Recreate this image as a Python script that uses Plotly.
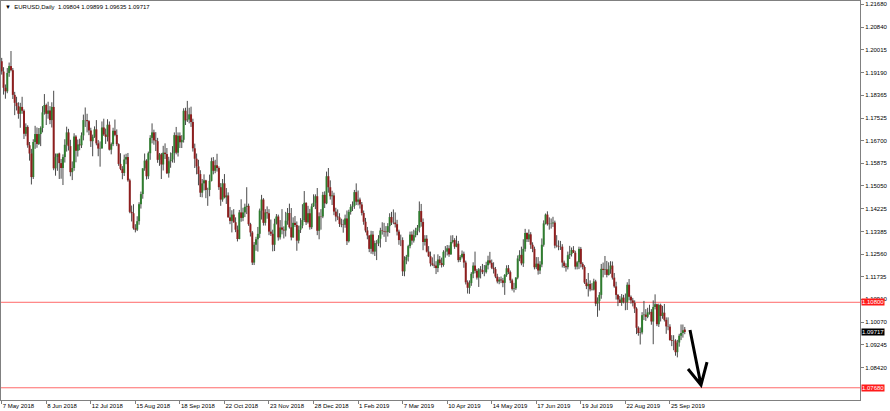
import pandas as pd
import plotly.graph_objects as go

# ---------------- data (EURUSD daily) ----------------
START, END = "2018-05-07", "2019-10-07"
HOLIDAYS = ["2018-12-25", "2019-01-01"]

OPEN = [
    1.1960,1.1922,1.1863,1.1850,1.1917, 1.1942,1.1927,1.1837,1.1808,1.1796,
    1.1768,1.1793,1.1779,1.1695,1.1720, 1.1653,1.1623,1.1537,1.1665,1.1694,
    1.1658,1.1694,1.1716,1.1773,1.1800, 1.1768,1.1780,1.1745,1.1793,1.1569,
    1.1610,1.1623,1.1588,1.1570,1.1610, 1.1655,1.1700,1.1650,1.1555,1.1570,
    1.1685,1.1633,1.1656,1.1653,1.1689, 1.1745,1.1745,1.1741,1.1707,1.1668,
    1.1684,1.1711,1.1660,1.1641,1.1642, 1.1718,1.1692,1.1684,1.1728,1.1637,
    1.1657,1.1706,1.1691,1.1657,1.1585, 1.1567,1.1552,1.1601,1.1610,1.1525,
    1.1410,1.1405,1.1350,1.1345,1.1376, 1.1438,1.1475,1.1569,1.1597,1.1540,
    1.1624,1.1680,1.1700,1.1671,1.1668, 1.1600,1.1620,1.1583,1.1626,1.1621,
    1.1551,1.1595,1.1601,1.1625,1.1690, 1.1626,1.1688,1.1664,1.1673,1.1779,
    1.1744,1.1747,1.1766,1.1738,1.1642, 1.1604,1.1576,1.1548,1.1480,1.1514,
    1.1525,1.1490,1.1490,1.1523,1.1595, 1.1560,1.1580,1.1570,1.1500,1.1455,
    1.1514,1.1463,1.1470,1.1390,1.1377, 1.1400,1.1372,1.1345,1.1311,1.1408,
    1.1388,1.1408,1.1428,1.1432,1.1365, 1.1335,1.1225,1.1290,1.1310,1.1330,
    1.1415,1.1455,1.1370,1.1408,1.1405, 1.1338,1.1330,1.1290,1.1367,1.1393,
    1.1317,1.1353,1.1345,1.1342,1.1378, 1.1406,1.1354,1.1317,1.1370,1.1362,
    1.1305,1.1345,1.1360,1.1380,1.1443, 1.1372,1.1405,1.1354,1.1430,1.1443,
    1.1467,1.1341,1.1394,1.1393,1.1472, 1.1441,1.1540,1.1500,1.1467,1.1470,
    1.1411,1.1393,1.1390,1.1366,1.1364, 1.1363,1.1386,1.1303,1.1410,1.1428,
    1.1432,1.1482,1.1447,1.1455,1.1437, 1.1406,1.1374,1.1342,1.1324,1.1275,
    1.1327,1.1265,1.1296,1.1295,1.1312, 1.1342,1.1340,1.1338,1.1336,1.1358,
    1.1391,1.1371,1.1371,1.1365,1.1338, 1.1307,1.1307,1.1193,1.1233,1.1246,
    1.1285,1.1327,1.1305,1.1325,1.1341, 1.1352,1.1413,1.1373,1.1300,1.1312,
    1.1265,1.1248,1.1222,1.1217,1.1214, 1.1205,1.1236,1.1223,1.1216,1.1264,
    1.1265,1.1277,1.1255,1.1300,1.1307, 1.1283,1.1294,1.1234,1.1245,1.1257,
    1.1225,1.1153,1.1133,1.1150,1.1184, 1.1214,1.1195,1.1170,1.1200,1.1198,
    1.1190,1.1190,1.1215,1.1233,1.1224, 1.1206,1.1201,1.1174,1.1156,1.1163,
    1.1160,1.1151,1.1180,1.1204,1.1190, 1.1160,1.1129,1.1131,1.1170,1.1240,
    1.1253,1.1222,1.1275,1.1333,1.1310, 1.1328,1.1290,1.1275,1.1208,1.1221,
    1.1196,1.1218,1.1290,1.1368,1.1400, 1.1365,1.1367,1.1368,1.1371,1.1287,
    1.1285,1.1283,1.1283,1.1225,1.1212, 1.1208,1.1252,1.1256,1.1271,1.1261,
    1.1210,1.1226,1.1275,1.1220,1.1209, 1.1152,1.1139,1.1147,1.1127,1.1126,
    1.1156,1.1075,1.1085,1.1107,1.1202, 1.1198,1.1200,1.1180,1.1201,1.1214,
    1.1170,1.1138,1.1107,1.1090,1.1078, 1.1097,1.1081,1.1080,1.1144,1.1100,
    1.1087,1.1078,1.1057,1.0987,1.0968, 1.0970,1.1033,1.1035,1.1027,1.1043,
    1.1045,1.1010,1.1063,1.1073,1.1000, 1.1070,1.1030,1.1042,1.1016,1.0992,
    1.0991,1.0942,1.0939,1.0940,1.0898, 1.0933,1.0958,1.0968,1.09804,
]
HIGH = [
    1.1972,1.1938,1.1875,1.1935,1.1955, 1.1997,1.1935,1.1848,1.1830,1.1810,
    1.1808,1.1830,1.1784,1.1733,1.1726, 1.1665,1.1640,1.1675,1.1724,1.1718,
    1.1716,1.1722,1.1796,1.1840,1.1805, 1.1812,1.1796,1.1810,1.1852,1.1623,
    1.1620,1.1626,1.1603,1.1620,1.1675, 1.1721,1.1713,1.1673,1.1594,1.1697,
    1.1690,1.1674,1.1677,1.1700,1.1765, 1.1791,1.1768,1.1745,1.1717,1.1692,
    1.1722,1.1745,1.1672,1.1667,1.1740, 1.1750,1.1714,1.1748,1.1740,1.1663,
    1.1717,1.1747,1.1711,1.1660,1.1624, 1.1577,1.1619,1.1622,1.1625,1.1531,
    1.1433,1.1438,1.1365,1.1394,1.1445, 1.1484,1.1569,1.1623,1.1602,1.1630,
    1.1690,1.1733,1.1710,1.1701,1.1680, 1.1625,1.1625,1.1651,1.1660,1.1643,
    1.1611,1.1627,1.1650,1.1700,1.1720, 1.1700,1.1700,1.1690,1.1788,1.1790,
    1.1815,1.1790,1.1794,1.1750,1.1659, 1.1623,1.1600,1.1562,1.1530,1.1547,
    1.1527,1.1498,1.1546,1.1608,1.1610, 1.1600,1.1622,1.1576,1.1515,1.1530,
    1.1548,1.1497,1.1481,1.1428,1.1416, 1.1420,1.1390,1.1360,1.1417,1.1456,
    1.1425,1.1440,1.1500,1.1440,1.1370, 1.1340,1.1300,1.1319,1.1355,1.1422,
    1.1472,1.1460,1.1420,1.1430,1.1420, 1.1382,1.1345,1.1385,1.1402,1.1400,
    1.1380,1.1420,1.1357,1.1410,1.1424, 1.1440,1.1424,1.1390,1.1395,1.1375,
    1.1360,1.1387,1.1438,1.1486,1.1445, 1.1432,1.1421,1.1440,1.1474,1.1474,
    1.1497,1.1408,1.1420,1.1483,1.1485, 1.1557,1.1570,1.1525,1.1487,1.1480,
    1.1425,1.1419,1.1405,1.1385,1.1382, 1.1400,1.1415,1.1418,1.1438,1.1448,
    1.1490,1.1514,1.1488,1.1462,1.1446, 1.1415,1.1388,1.1355,1.1325,1.1341,
    1.1340,1.1305,1.1307,1.1325,1.1352, 1.1372,1.1370,1.1358,1.1369,1.1405,
    1.1410,1.1419,1.1408,1.1381,1.1345, 1.1327,1.1317,1.1248,1.1253,1.1290,
    1.1338,1.1339,1.1345,1.1352,1.1362, 1.1448,1.1439,1.1386,1.1325,1.1325,
    1.1285,1.1265,1.1244,1.1255,1.1230, 1.1255,1.1249,1.1243,1.1270,1.1285,
    1.1289,1.1288,1.1324,1.1325,1.1314, 1.1323,1.1304,1.1252,1.1269,1.1265,
    1.1232,1.1160,1.1160,1.1190,1.1226, 1.1265,1.1202,1.1205,1.1212,1.1220,
    1.1216,1.1228,1.1250,1.1264,1.1236, 1.1226,1.1209,1.1184,1.1172,1.1174,
    1.1169,1.1183,1.1215,1.1216,1.1196, 1.1166,1.1151,1.1172,1.1251,1.1270,
    1.1283,1.1310,1.1348,1.1335,1.1346, 1.1336,1.1299,1.1283,1.1245,1.1245,
    1.1230,1.1313,1.1379,1.1404,1.1412, 1.1390,1.1386,1.1392,1.1378,1.1325,
    1.1306,1.1304,1.1292,1.1232,1.1222, 1.1265,1.1286,1.1280,1.1285,1.1268,
    1.1231,1.1283,1.1282,1.1226,1.1215, 1.1165,1.1187,1.1160,1.1150,1.1166,
    1.1162,1.1098,1.1117,1.1220,1.1225, 1.1249,1.1231,1.1226,1.1230,1.1229,
    1.1187,1.1155,1.1110,1.1103,1.1110, 1.1107,1.1112,1.1153,1.1165,1.1105,
    1.1096,1.1087,1.1062,1.0992,1.0988, 1.1044,1.1085,1.1055,1.1060,1.1071,
    1.1055,1.1087,1.1109,1.1075,1.1075, 1.1075,1.1067,1.1074,1.1025,1.1025,
    1.1000,1.0960,1.0960,1.0945,1.0943, 1.0965,1.0999,1.0999,1.09899,
]
LOW = [
    1.1911,1.1838,1.1823,1.1843,1.1903, 1.1923,1.1822,1.1763,1.1780,1.1750,
    1.1717,1.1768,1.1676,1.1686,1.1644, 1.1597,1.1510,1.1530,1.1640,1.1644,
    1.1654,1.1650,1.1700,1.1765,1.1727, 1.1750,1.1730,1.1718,1.1562,1.1542,
    1.1560,1.1530,1.1531,1.1508,1.1590, 1.1630,1.1634,1.1540,1.1526,1.1560,
    1.1591,1.1612,1.1635,1.1643,1.1671, 1.1720,1.1700,1.1690,1.1647,1.1613,
    1.1680,1.1653,1.1613,1.1575,1.1640, 1.1687,1.1658,1.1667,1.1634,1.1620,
    1.1650,1.1686,1.1650,1.1578,1.1562, 1.1529,1.1541,1.1584,1.1520,1.1405,
    1.1375,1.1345,1.1335,1.1340,1.1363, 1.1422,1.1458,1.1560,1.1528,1.1530,
    1.1600,1.1660,1.1655,1.1632,1.1589, 1.1578,1.1530,1.1561,1.1603,1.1548,
    1.1535,1.1571,1.1590,1.1589,1.1620, 1.1612,1.1643,1.1643,1.1663,1.1727,
    1.1738,1.1733,1.1720,1.1630,1.1570, 1.1547,1.1507,1.1464,1.1463,1.1488,
    1.1460,1.1432,1.1467,1.1521,1.1547, 1.1551,1.1557,1.1490,1.1432,1.1447,
    1.1459,1.1439,1.1389,1.1365,1.1335, 1.1370,1.1336,1.1302,1.1310,1.1374,
    1.1376,1.1391,1.1402,1.1359,1.1320, 1.1216,1.1216,1.1268,1.1265,1.1315,
    1.1382,1.1360,1.1360,1.1385,1.1325, 1.1322,1.1266,1.1267,1.1364,1.1305,
    1.1309,1.1328,1.1313,1.1320,1.1363, 1.1349,1.1306,1.1315,1.1355,1.1268,
    1.1295,1.1333,1.1350,1.1373,1.1362, 1.1367,1.1345,1.1347,1.1428,1.1420,
    1.1325,1.1310,1.1345,1.1387,1.1424, 1.1438,1.1480,1.1455,1.1435,1.1398,
    1.1375,1.1380,1.1355,1.1354,1.1334, 1.1352,1.1289,1.1298,1.1400,1.1413,
    1.1421,1.1435,1.1434,1.1422,1.1397, 1.1363,1.1335,1.1310,1.1263,1.1257,
    1.1255,1.1249,1.1234,1.1285,1.1280, 1.1327,1.1319,1.1300,1.1320,1.1333,
    1.1362,1.1365,1.1353,1.1324,1.1290, 1.1285,1.1176,1.1175,1.1219,1.1229,
    1.1277,1.1290,1.1298,1.1317,1.1325, 1.1335,1.1356,1.1270,1.1287,1.1262,
    1.1245,1.1211,1.1212,1.1205,1.1183, 1.1190,1.1215,1.1207,1.1210,1.1243,
    1.1251,1.1246,1.1253,1.1295,1.1275, 1.1281,1.1226,1.1227,1.1240,1.1206,
    1.1145,1.1112,1.1111,1.1140,1.1168, 1.1186,1.1163,1.1136,1.1167,1.1183,
    1.1175,1.1185,1.1200,1.1218,1.1201, 1.1185,1.1168,1.1149,1.1146,1.1150,
    1.1135,1.1107,1.1173,1.1183,1.1150, 1.1123,1.1116,1.1125,1.1164,1.1230,
    1.1215,1.1209,1.1265,1.1300,1.1300, 1.1275,1.1263,1.1200,1.1201,1.1181,
    1.1183,1.1208,1.1283,1.1364,1.1360, 1.1345,1.1349,1.1355,1.1277,1.1280,
    1.1270,1.1271,1.1207,1.1205,1.1192, 1.1200,1.1238,1.1247,1.1260,1.1200,
    1.1200,1.1201,1.1207,1.1200,1.1147, 1.1128,1.1101,1.1120,1.1123,1.1123,
    1.1066,1.1027,1.1050,1.1093,1.1171, 1.1180,1.1171,1.1178,1.1184,1.1163,
    1.1133,1.1090,1.1066,1.1078,1.1067, 1.1076,1.1051,1.1052,1.1087,1.1075,
    1.1065,1.1041,1.0964,1.0958,1.0926, 1.0963,1.1015,1.1012,1.1022,1.1035,
    1.0998,1.0927,1.1054,1.0993,1.0990, 1.1010,1.1020,1.1010,1.0965,1.0978,
    1.0940,1.0920,1.0905,1.0885,1.0879, 1.0918,1.0942,1.0951,1.09635,
]
CLOSE = [
    1.1922,1.1863,1.1850,1.1917,1.1942, 1.1927,1.1837,1.1808,1.1796,1.1768,
    1.1793,1.1779,1.1695,1.1720,1.1653, 1.1623,1.1537,1.1665,1.1694,1.1658,
    1.1694,1.1716,1.1773,1.1800,1.1768, 1.1780,1.1745,1.1793,1.1569,1.1610,
    1.1623,1.1588,1.1570,1.1610,1.1655, 1.1700,1.1650,1.1555,1.1570,1.1685,
    1.1633,1.1656,1.1653,1.1689,1.1745, 1.1745,1.1741,1.1707,1.1668,1.1684,
    1.1711,1.1660,1.1641,1.1642,1.1718, 1.1692,1.1684,1.1728,1.1637,1.1657,
    1.1706,1.1691,1.1657,1.1585,1.1567, 1.1552,1.1601,1.1610,1.1525,1.1410,
    1.1405,1.1350,1.1345,1.1376,1.1438, 1.1475,1.1569,1.1597,1.1540,1.1624,
    1.1680,1.1700,1.1671,1.1668,1.1600, 1.1620,1.1583,1.1626,1.1621,1.1551,
    1.1595,1.1601,1.1625,1.1690,1.1626, 1.1688,1.1664,1.1673,1.1779,1.1744,
    1.1747,1.1766,1.1738,1.1642,1.1604, 1.1576,1.1548,1.1480,1.1514,1.1525,
    1.1490,1.1490,1.1523,1.1595,1.1560, 1.1580,1.1570,1.1500,1.1455,1.1514,
    1.1463,1.1470,1.1390,1.1377,1.1400, 1.1372,1.1345,1.1311,1.1408,1.1388,
    1.1408,1.1428,1.1432,1.1365,1.1335, 1.1225,1.1290,1.1310,1.1330,1.1415,
    1.1455,1.1370,1.1408,1.1405,1.1338, 1.1330,1.1290,1.1367,1.1393,1.1317,
    1.1353,1.1345,1.1342,1.1378,1.1406, 1.1354,1.1317,1.1370,1.1362,1.1305,
    1.1345,1.1360,1.1380,1.1443,1.1372, 1.1405,1.1354,1.1430,1.1443,1.1467,
    1.1341,1.1394,1.1393,1.1472,1.1441, 1.1540,1.1500,1.1467,1.1470,1.1411,
    1.1393,1.1390,1.1366,1.1364,1.1363, 1.1386,1.1303,1.1410,1.1428,1.1432,
    1.1482,1.1447,1.1455,1.1437,1.1406, 1.1374,1.1342,1.1324,1.1275,1.1327,
    1.1265,1.1296,1.1295,1.1312,1.1342, 1.1340,1.1338,1.1336,1.1358,1.1391,
    1.1371,1.1371,1.1365,1.1338,1.1307, 1.1307,1.1193,1.1233,1.1246,1.1285,
    1.1327,1.1305,1.1325,1.1341,1.1352, 1.1413,1.1373,1.1300,1.1312,1.1265,
    1.1248,1.1222,1.1217,1.1214,1.1205, 1.1236,1.1223,1.1216,1.1264,1.1265,
    1.1277,1.1255,1.1300,1.1307,1.1283, 1.1294,1.1234,1.1245,1.1257,1.1225,
    1.1153,1.1133,1.1150,1.1184,1.1214, 1.1195,1.1170,1.1200,1.1198,1.1190,
    1.1190,1.1215,1.1233,1.1224,1.1206, 1.1201,1.1174,1.1156,1.1163,1.1160,
    1.1151,1.1180,1.1204,1.1190,1.1160, 1.1129,1.1131,1.1170,1.1240,1.1253,
    1.1222,1.1275,1.1333,1.1310,1.1328, 1.1290,1.1275,1.1208,1.1221,1.1196,
    1.1218,1.1290,1.1368,1.1400,1.1365, 1.1367,1.1368,1.1371,1.1287,1.1285,
    1.1283,1.1283,1.1225,1.1212,1.1208, 1.1252,1.1256,1.1271,1.1261,1.1210,
    1.1226,1.1275,1.1220,1.1209,1.1152, 1.1139,1.1147,1.1127,1.1126,1.1156,
    1.1075,1.1085,1.1107,1.1202,1.1198, 1.1200,1.1180,1.1201,1.1214,1.1170,
    1.1138,1.1107,1.1090,1.1078,1.1097, 1.1081,1.1080,1.1144,1.1100,1.1087,
    1.1078,1.1057,1.0987,1.0968,1.0970, 1.1033,1.1035,1.1027,1.1043,1.1045,
    1.1010,1.1063,1.1073,1.1000,1.1070, 1.1030,1.1042,1.1016,1.0992,1.0991,
    1.0942,1.0939,1.0940,1.0898,1.0933, 1.0958,1.0968,1.0978,1.09717,
]

TICK_DATES = ["2018-05-07", "2018-06-08", "2018-07-12", "2018-08-15", "2018-09-18",
              "2018-10-22", "2018-11-23", "2018-12-28", "2019-02-01", "2019-03-07",
              "2019-04-10", "2019-05-14", "2019-06-17", "2019-07-19", "2019-08-22",
              "2019-09-25"]
TICK_LABELS = ["7 May 2018", "8 Jun 2018", "12 Jul 2018", "15 Aug 2018", "18 Sep 2018",
               "22 Oct 2018", "23 Nov 2018", "28 Dec 2018", "1 Feb 2019", "7 Mar 2019",
               "10 Apr 2019", "14 May 2019", "17 Jun 2019", "19 Jul 2019", "22 Aug 2019",
               "25 Sep 2019"]
PRICE_TICKS = [1.21680, 1.20840, 1.20015, 1.19190, 1.18365, 1.17525, 1.16700, 1.15875,
               1.15050, 1.14225, 1.13385, 1.12560, 1.11735, 1.10910, 1.10070, 1.09245,
               1.08420]
LEVELS = [1.10800, 1.07680]
LAST_PRICE = 1.09717
SYMBOL = "EURUSD,Daily"

# ---------------- build ----------------
days = [d.strftime("%Y-%m-%d") for d in pd.bdate_range(START, END)
        if d.strftime("%Y-%m-%d") not in HOLIDAYS]
assert len(days) == len(OPEN) == len(HIGH) == len(LOW) == len(CLOSE)

wx, wy = [], []
ux, uy, dx, dy = [], [], [], []
for d, o, h, l, c in zip(days, OPEN, HIGH, LOW, CLOSE):
    wx += [d, d, None]
    wy += [l, h, None]
    if c >= o:
        ux += [d, d, None]
        uy += [o, c, None]
    else:
        dx += [d, d, None]
        dy += [o, c, None]

fig = go.Figure()
fig.add_trace(go.Scatter(x=wx, y=wy, mode="lines", line=dict(color="#4a4a4a", width=1),
                         hoverinfo="skip"))
fig.add_trace(go.Scatter(x=ux, y=uy, mode="lines", line=dict(color="#2f7d2f", width=2),
                         hoverinfo="skip"))
fig.add_trace(go.Scatter(x=dx, y=dy, mode="lines", line=dict(color="#8e1e1e", width=2),
                         hoverinfo="skip"))

shapes = []
for lv in LEVELS:
    shapes.append(dict(type="line", xref="paper", x0=0, x1=1, yref="y", y0=lv, y1=lv,
                       line=dict(color="rgb(255,105,105)", width=1), layer="below"))
# hand-drawn arrow (chart object)
shapes.append(dict(type="path", xref="paper", yref="paper",
                   path="M 0.8021,0.1754 L 0.8149,0.0376 M 0.7998,0.0777 L 0.8149,0.0376 L 0.8219,0.0952",
                   line=dict(color="black", width=3)))

annotations = []
for lv in LEVELS:
    annotations.append(dict(x=1, xref="paper", y=lv, yref="y", xanchor="left", yanchor="middle",
                            text=f"{lv:.5f}", showarrow=False, bgcolor="#ff1a1a",
                            font=dict(color="white", size=6, family="Liberation Sans"),
                            borderpad=0, xshift=1))
annotations.append(dict(x=1, xref="paper", y=LAST_PRICE, yref="y", xanchor="left", yanchor="middle",
                        text=f"{LAST_PRICE:.5f}", showarrow=False, bgcolor="black",
                        font=dict(color="white", size=6, family="Liberation Sans"),
                        borderpad=0, xshift=1))
header = ("\u25BC\u00a0\u00a0" + SYMBOL + "\u00a0\u00a0" +
          "\u00a0".join(f"{v:.5f}" for v in (OPEN[-1], HIGH[-1], LOW[-1], CLOSE[-1])))
annotations.append(dict(x=0, xref="paper", y=1, yref="paper", xanchor="left", yanchor="top",
                        text=header, showarrow=False, xshift=2, yshift=-1,
                        font=dict(color="black", size=6, family="Liberation Sans")))

fig.update_layout(
    width=890, height=411,
    margin=dict(l=1, r=30, t=1, b=11),
    paper_bgcolor="white", plot_bgcolor="white",
    showlegend=False,
    font=dict(family="Liberation Sans", size=6, color="black"),
    shapes=shapes, annotations=annotations,
)
fig.update_xaxes(type="category", range=[-0.38, 462.4], tickmode="array",
                 tickvals=TICK_DATES, ticktext=TICK_LABELS, ticks="outside", ticklen=3,
                 tickcolor="#808080", ticklabelposition="outside right",
                 showgrid=False, zeroline=False, showline=True, linecolor="#808080",
                 linewidth=1, mirror=True, automargin=False,
                 tickfont=dict(size=6, family="Liberation Sans", color="black"))
fig.update_yaxes(side="right", range=[1.07234, 1.21796], tickmode="array",
                 tickvals=PRICE_TICKS, ticktext=[f"{v:.5f}" for v in PRICE_TICKS],
                 ticks="outside", ticklen=3, tickcolor="#808080",
                 showgrid=False, zeroline=False, showline=True, linecolor="#808080",
                 linewidth=1, mirror=True, automargin=False,
                 tickfont=dict(size=6, family="Liberation Sans", color="black"))

fig.write_html("out.html",
               config={"displayModeBar": False, "staticPlot": True},
               post_script="document.body.style.margin='0';document.body.style.padding='0';"
                           "document.body.style.overflow='hidden';")
